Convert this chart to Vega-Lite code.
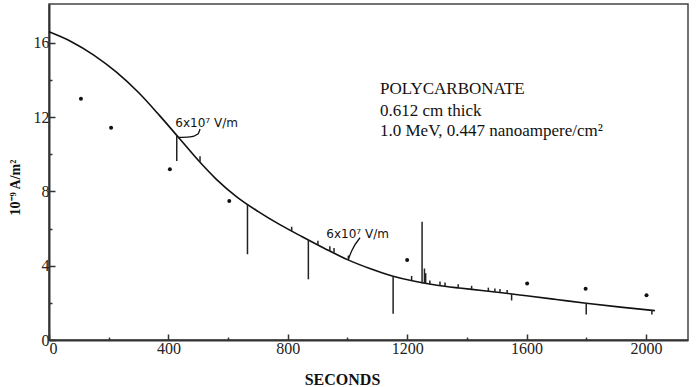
{
  "$schema": "https://vega.github.io/schema/vega-lite/v6.json",
  "width": 639,
  "height": 336,
  "autosize": {"type": "none"},
  "padding": {"left": 49, "top": 4, "right": 9, "bottom": 47},
  "background": "white",
  "config": {
    "view": {"stroke": "#444", "strokeWidth": 1.5},
    "font": "Liberation Serif",
    "axis": {"labelFont": "Liberation Serif", "titleFont": "Liberation Serif", "labelColor": "#222", "titleColor": "#111", "domainColor": "#333", "domainWidth": 2, "tickColor": "#333", "tickWidth": 1.5, "grid": false}
  },
  "datasets": {
    "curve": [
      {"t": 0, "j": 16.6}, {"t": 75, "j": 16.07}, {"t": 150, "j": 15.35}, {"t": 225, "j": 14.44},
      {"t": 300, "j": 13.33}, {"t": 370, "j": 12.1}, {"t": 440, "j": 10.8}, {"t": 500, "j": 9.68},
      {"t": 560, "j": 8.67}, {"t": 630, "j": 7.7}, {"t": 700, "j": 6.93}, {"t": 775, "j": 6.2},
      {"t": 850, "j": 5.55}, {"t": 925, "j": 4.92}, {"t": 1000, "j": 4.33}, {"t": 1075, "j": 3.85},
      {"t": 1150, "j": 3.45}, {"t": 1225, "j": 3.16}, {"t": 1300, "j": 2.95}, {"t": 1375, "j": 2.8},
      {"t": 1450, "j": 2.67}, {"t": 1525, "j": 2.53}, {"t": 1600, "j": 2.38}, {"t": 1700, "j": 2.18},
      {"t": 1800, "j": 1.98}, {"t": 1915, "j": 1.77}, {"t": 2030, "j": 1.58}
    ],
    "dots": [
      {"t": 107, "j": 13.0}, {"t": 208, "j": 11.44}, {"t": 405, "j": 9.2}, {"t": 604, "j": 7.49},
      {"t": 1200, "j": 4.31}, {"t": 1602, "j": 3.05}, {"t": 1798, "j": 2.76}, {"t": 2002, "j": 2.41}
    ],
    "spikes": [
      {"t": 428, "j": 11.0, "b": 9.64}, {"t": 665, "j": 7.3, "b": 4.62}, {"t": 869, "j": 5.38, "b": 3.27},
      {"t": 1153, "j": 3.44, "b": 1.42}, {"t": 1250, "j": 3.05, "b": 6.37}, {"t": 1550, "j": 2.48, "b": 2.13},
      {"t": 1800, "j": 1.98, "b": 1.38}, {"t": 2020, "j": 1.6, "b": 1.38},
      {"t": 506, "j": 9.6, "b": 9.9}, {"t": 813, "j": 5.85, "b": 6.1}, {"t": 901, "j": 5.12, "b": 5.35},
      {"t": 941, "j": 4.8, "b": 5.05}, {"t": 955, "j": 4.7, "b": 4.95}, {"t": 1003, "j": 4.31, "b": 4.55},
      {"t": 1215, "j": 3.2, "b": 3.45}, {"t": 1258, "j": 3.04, "b": 3.85}, {"t": 1262, "j": 3.04, "b": 3.6},
      {"t": 1276, "j": 3.0, "b": 3.2}, {"t": 1310, "j": 2.93, "b": 3.15}, {"t": 1327, "j": 2.9, "b": 3.1},
      {"t": 1371, "j": 2.81, "b": 3.0}, {"t": 1416, "j": 2.73, "b": 2.92}, {"t": 1472, "j": 2.63, "b": 2.82},
      {"t": 1494, "j": 2.59, "b": 2.78}, {"t": 1511, "j": 2.56, "b": 2.75}, {"t": 1535, "j": 2.51, "b": 2.7}
    ],
    "arrows": [
      {"id": 1, "k": 0, "t": 506, "j": 11.37}, {"id": 1, "k": 1, "t": 499, "j": 11.1},
      {"id": 1, "k": 2, "t": 472, "j": 10.94}, {"id": 1, "k": 3, "t": 432, "j": 10.91},
      {"id": 2, "k": 0, "t": 1042, "j": 5.51}, {"id": 2, "k": 1, "t": 1014, "j": 4.8},
      {"id": 2, "k": 2, "t": 1003, "j": 4.35}
    ],
    "notes": [
      {"t": 528, "j": 11.69, "txt": "6x10⁷ V/m"},
      {"t": 1034, "j": 5.71, "txt": "6x10⁷ V/m"}
    ],
    "info": [
      {"t": 1109, "j": 13.52, "txt": "POLYCARBONATE"},
      {"t": 1109, "j": 12.34, "txt": "0.612 cm thick"},
      {"t": 1109, "j": 11.26, "txt": "1.0 MeV, 0.447 nanoampere/cm²"}
    ]
  },
  "encoding": {
    "x": {"field": "t", "type": "quantitative", "scale": {"domain": [0, 2141], "nice": false, "zero": false},
      "axis": {"title": "SECONDS", "titleFontWeight": "bold", "titleFontSize": 16, "titleX": 293, "titleY": 44, "titleBaseline": "alphabetic",
        "values": [0, 200, 400, 600, 800, 1000, 1200, 1400, 1600, 1800, 2000], "format": "d",
        "labelExpr": "datum.value % 400 == 0 ? datum.label : ''",
        "labelFontSize": 16, "labelPadding": 6,
        "tickSize": {"condition": {"test": "datum.value % 400 != 0", "value": -3}, "value": -6}}},
    "y": {"field": "j", "type": "quantitative", "scale": {"domain": [0, 18.1], "nice": false},
      "axis": {"title": "10⁻⁹ A/m²", "titleFontWeight": "bold", "titleFontSize": 14, "titleX": -34, "titleY": 183, "titleAngle": 270, "titleAlign": "center", "titleBaseline": "middle",
        "values": [0, 2, 4, 6, 8, 10, 12, 14, 16],
        "labelExpr": "datum.value % 4 == 0 ? datum.label : ''",
        "labelFontSize": 16, "labelPadding": 6,
        "tickSize": {"condition": {"test": "datum.value % 4 != 0", "value": -3}, "value": -6}}}
  },
  "layer": [
    {
      "data": {"name": "curve"},
      "mark": {"type": "line", "interpolate": "monotone", "color": "#111", "strokeWidth": 1.6}
    },
    {
      "data": {"name": "spikes"},
      "mark": {"type": "rule", "color": "#222", "strokeWidth": 1.5},
      "encoding": {"y2": {"field": "b"}}
    },
    {
      "data": {"name": "dots"},
      "mark": {"type": "point", "filled": true, "color": "#111", "size": 16, "opacity": 1}
    },
    {
      "data": {"name": "arrows"},
      "mark": {"type": "line", "interpolate": "monotone", "color": "#111", "strokeWidth": 1.3},
      "encoding": {"detail": {"field": "id"}, "order": {"field": "k"}}
    },
    {
      "data": {"name": "notes"},
      "mark": {"type": "text", "font": "DejaVu Sans", "fontSize": 12, "color": "#111", "baseline": "middle", "align": "center"},
      "encoding": {"text": {"field": "txt"}}
    },
    {
      "data": {"name": "info"},
      "mark": {"type": "text", "font": "Liberation Serif", "fontSize": 17, "color": "#111", "baseline": "middle", "align": "left"},
      "encoding": {"text": {"field": "txt"}}
    }
  ]
}
